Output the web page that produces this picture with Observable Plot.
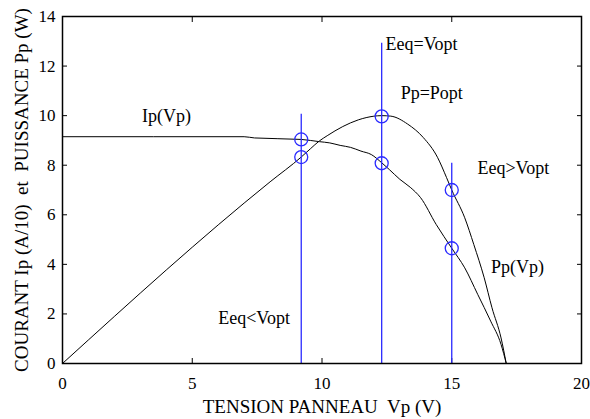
<!DOCTYPE html>
<html>
<head>
<meta charset="utf-8">
<script src="https://cdn.jsdelivr.net/npm/d3@7"></script>
<script src="https://cdn.jsdelivr.net/npm/@observablehq/plot@0.6"></script>
<style>
  html, body { margin: 0; padding: 0; background: #fff; }
  #chart svg { display: block; }
</style>
</head>
<body>
<div id="chart"></div>
<script>
// Current curve Ip(Vp) (in A/10)
const vpI = [0, 7.0, 7.4, 9.2, 9.9, 10.3, 10.7, 11.1, 11.5, 11.9, 12.3, 12.6, 13.0, 13.4, 13.8, 14.4, 15.0, 15.5, 16.0, 16.5, 16.9, 17.1];
const ipVals = [9.15, 9.15, 9.10, 9.04, 8.95, 8.90, 8.80, 8.72, 8.57, 8.43, 8.10, 7.82, 7.43, 7.11, 6.69, 5.61, 4.65, 3.86, 2.79, 1.71, 0.77, 0];
// Power curve Pp(Vp) (W)
const vpP = [0, 8.0, 9.2, 9.55, 9.9, 10.2, 10.8, 11.4, 11.7, 12.3, 12.65, 13.3, 13.9, 14.45, 14.8, 15.0, 15.5, 15.85, 16.25, 16.55, 16.9, 17.1];
const ppVals = [0, 7.33, 8.33, 8.66, 8.98, 9.19, 9.56, 9.83, 9.92, 10.0, 9.98, 9.66, 9.12, 8.32, 7.5, 7.0, 5.88, 4.8, 3.46, 2.25, 1.03, 0];
// Operating points (Eeq values)
const opV = [9.2, 12.3, 15.0];
const opI = [9.04, 8.08, 4.65];
const opP = [8.33, 9.97, 7.0];
const opTop = [10.06, 12.92, 8.08];
// Annotations
const annText = ["Ip(Vp)", "Eeq=Vopt", "Pp=Popt", "Eeq>Vopt", "Pp(Vp)", "Eeq<Vopt"];
const annX = [3.06, 12.45, 13.03, 15.99, 16.51, 6.0];
const annY = [9.76, 12.65, 10.67, 7.65, 3.64, 1.6];
// Ticks
const xTicks = [0, 5, 10, 15, 20];
const yTicks = [0, 2, 4, 6, 8, 10, 12, 14];
const xLabel = "TENSION PANNEAU  Vp (V)";
const yLabel = "COURANT Ip (A/10)  et  PUISSANCE Pp (W)";

const curveI = vpI.map((v, i) => ({v, y: ipVals[i]}));
const curveP = vpP.map((v, i) => ({v, y: ppVals[i]}));
const ops = opV.map((v, i) => ({v, i: opI[i], p: opP[i], top: opTop[i]}));
const dots = ops.flatMap(d => [{v: d.v, y: d.i}, {v: d.v, y: d.p}]);
const anns = annText.map((t, i) => ({t, x: annX[i], y: annY[i]}));

const blue = "#2a2aff";
const font = "'Liberation Serif', 'Times New Roman', serif";

const chart = Plot.plot({
  width: 590,
  height: 419,
  marginLeft: 62,
  marginRight: 9,
  marginTop: 16,
  marginBottom: 56,
  style: {fontFamily: font, background: "#fff", color: "black"},
  x: {domain: [0, 20]},
  y: {domain: [0, 14]},
  marks: [
    // tick labels
    Plot.axisX(xTicks, {anchor: "bottom", tickSize: 0, tickPadding: 13, fontSize: 17, fontFamily: font, tickFormat: d => String(d), label: null}),
    Plot.axisY(yTicks, {anchor: "left", tickSize: 0, tickPadding: 7, fontSize: 17, fontFamily: font, tickFormat: d => String(d), label: null}),
    // inward ticks on all sides
    Plot.axisX(xTicks.slice(1, -1), {anchor: "bottom", tickSize: -5, text: null, label: null}),
    Plot.axisX(xTicks.slice(1, -1), {anchor: "top", tickSize: -5, text: null, label: null}),
    Plot.axisY(yTicks.slice(1, -1), {anchor: "left", tickSize: -5, text: null, label: null}),
    Plot.axisY(yTicks.slice(1, -1), {anchor: "right", tickSize: -5, text: null, label: null}),
    // curves
    Plot.line(curveI, {x: "v", y: "y", stroke: "black", strokeWidth: 1, curve: "monotone-x"}),
    Plot.line(curveP, {x: "v", y: "y", stroke: "black", strokeWidth: 1, curve: "monotone-x"}),
    // operating lines and points
    Plot.ruleX(ops, {x: "v", y1: 0, y2: "top", stroke: blue, strokeWidth: 1.3}),
    Plot.dot(dots, {x: "v", y: "y", r: 6.5, stroke: blue, fill: "none", strokeWidth: 1.3}),
    // annotations
    Plot.text(anns, {x: "x", y: "y", text: "t", textAnchor: "start", lineAnchor: "bottom", fontSize: 18, fontFamily: font, fill: "black"}),
    // axis titles
    Plot.text([xLabel], {frameAnchor: "bottom", textAnchor: "middle", dy: 49.5, lineAnchor: "bottom", fontSize: 19, fontFamily: font, fill: "black"}),
    Plot.text([yLabel], {frameAnchor: "left", textAnchor: "middle", dx: -35, rotate: -90, lineAnchor: "bottom", fontSize: 19, fontFamily: font, fill: "black"}),
    Plot.frame({stroke: "black", strokeWidth: 1.5})
  ]
});
document.getElementById("chart").appendChild(chart);
</script>
</body>
</html>
